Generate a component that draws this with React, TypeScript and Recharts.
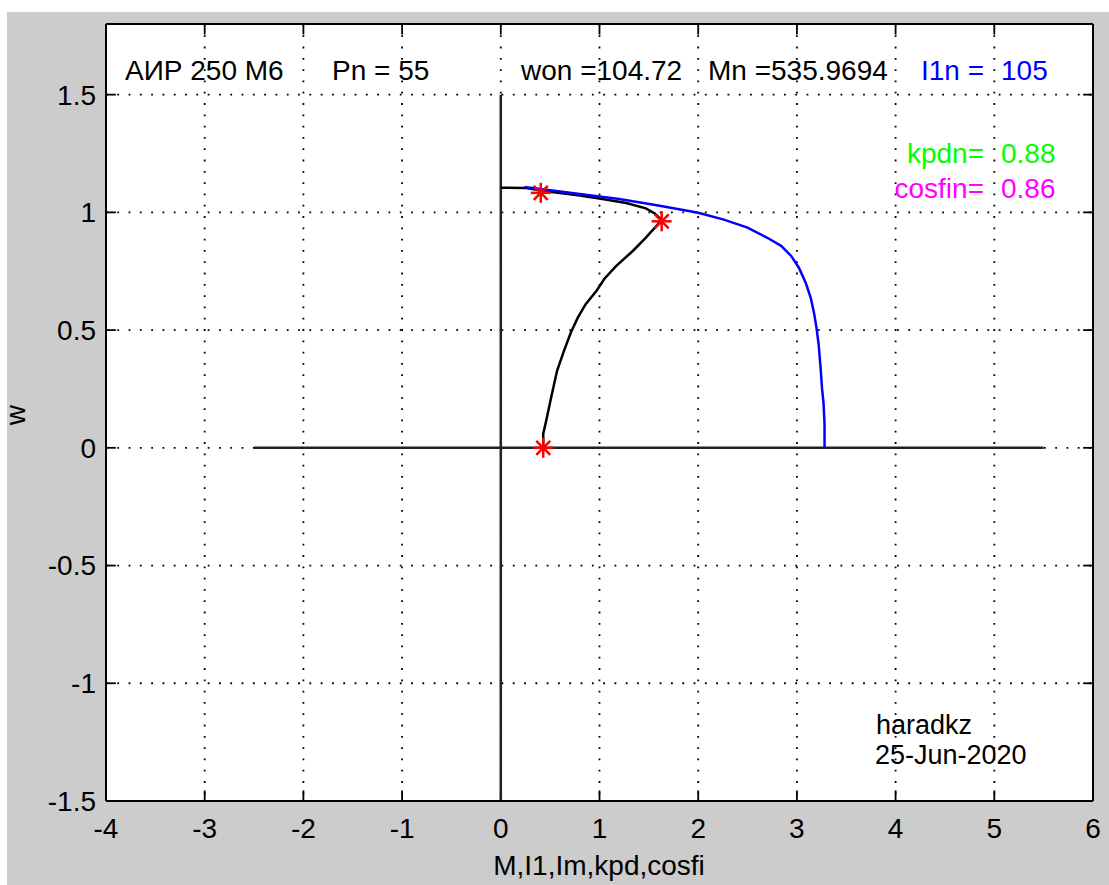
import React from 'react';
import { ComposedChart, Line, XAxis, YAxis, CartesianGrid, ReferenceLine } from 'recharts';

// axis ticks
const xTicks = [-4, -3, -2, -1, 0, 1, 2, 3, 4, 5, 6];
const yTicks = [-1.5, -1, -0.5, 0, 0.5, 1, 1.5];

// coordinate axes drawn as plot lines
const zeroH = [{ x: -2.5, y: 0 }, { x: 5.5, y: 0 }];
const zeroV = [{ x: 0, y: -1.5 }, { x: 0, y: 1.5 }];

// mechanical characteristic w(M) - blue
const mechCurve = [
  { x: 0.24, y: 1.108 }, { x: 0.5, y: 1.094 }, { x: 0.88, y: 1.074 }, { x: 1.2, y: 1.057 },
  { x: 1.58, y: 1.03 }, { x: 1.82, y: 1.012 }, { x: 2.0, y: 0.998 }, { x: 2.26, y: 0.969 },
  { x: 2.5, y: 0.935 }, { x: 2.7, y: 0.892 }, { x: 2.84, y: 0.858 }, { x: 2.94, y: 0.816 },
  { x: 3.02, y: 0.765 }, { x: 3.09, y: 0.7 }, { x: 3.14, y: 0.637 }, { x: 3.175, y: 0.57 },
  { x: 3.2, y: 0.505 }, { x: 3.22, y: 0.44 }, { x: 3.24, y: 0.34 }, { x: 3.255, y: 0.25 },
  { x: 3.27, y: 0.19 }, { x: 3.28, y: 0.1 }, { x: 3.28, y: 0 },
];

// current curve - black
const currentCurve = [
  { x: 0, y: 1.105 }, { x: 0.24, y: 1.104 }, { x: 0.5, y: 1.088 }, { x: 0.8, y: 1.072 },
  { x: 1.03, y: 1.057 }, { x: 1.27, y: 1.04 }, { x: 1.47, y: 1.017 }, { x: 1.56, y: 0.995 },
  { x: 1.63, y: 0.967 }, { x: 1.47, y: 0.893 }, { x: 1.34, y: 0.837 }, { x: 1.17, y: 0.773 },
  { x: 1.05, y: 0.718 }, { x: 0.97, y: 0.667 }, { x: 0.86, y: 0.61 }, { x: 0.78, y: 0.553 },
  { x: 0.71, y: 0.49 }, { x: 0.64, y: 0.412 }, { x: 0.57, y: 0.327 }, { x: 0.51, y: 0.214 },
  { x: 0.46, y: 0.115 }, { x: 0.43, y: 0.06 }, { x: 0.43, y: 0 },
];

// red asterisk markers
const markers = [{ x: 0.405, y: 1.083 }, { x: 1.63, y: 0.962 }, { x: 0.43, y: 0 }];

const FONT = '"Liberation Sans", Arial, sans-serif';
const tickFont = { fill: '#000', fontSize: 28, fontFamily: FONT };

const Star = (props: any) => {
  const { cx, cy } = props;
  if (cx == null || cy == null) return null;
  const r = 10;
  const d = 7;
  return (
    <g stroke="#ff0000" strokeWidth={2.5}>
      <line x1={cx - r} y1={cy} x2={cx + r} y2={cy} />
      <line x1={cx} y1={cy - r} x2={cx} y2={cy + r} />
      <line x1={cx - d} y1={cy - d} x2={cx + d} y2={cy + d} />
      <line x1={cx - d} y1={cy + d} x2={cx + d} y2={cy - d} />
    </g>
  );
};

export default function App() {
  return (
    <div style={{ position: 'relative', width: 1109, height: 885, background: '#fff', fontFamily: FONT }}>
      <style>{'body{margin:0}'}</style>
      <div style={{ position: 'absolute', left: 7, top: 12, right: 0, bottom: 0, background: '#cccccc' }} />
      <div style={{ position: 'absolute', left: 0, top: 0 }}>
        <ComposedChart width={1109} height={885} margin={{ top: 0, right: 0, bottom: 0, left: 0 }}>
          <CartesianGrid
            fill="#ffffff"
            fillOpacity={1}
            stroke="#000"
            strokeWidth={1.8}
            strokeDasharray="1.8 9.5"
          />
          <XAxis
            type="number"
            dataKey="x"
            domain={[-4, 6]}
            ticks={xTicks}
            allowDataOverflow
            height={84}
            tickSize={0}
            tickMargin={17}
            tickLine={false}
            axisLine={{ stroke: '#000', strokeWidth: 2 }}
            tick={tickFont}
          />
          <XAxis
            xAxisId="top"
            orientation="top"
            type="number"
            domain={[-4, 6]}
            height={24}
            tick={false}
            tickLine={false}
            axisLine={{ stroke: '#000', strokeWidth: 2 }}
          />
          <YAxis
            type="number"
            dataKey="y"
            domain={[-1.5, 1.8]}
            ticks={yTicks}
            allowDataOverflow
            width={106}
            tickSize={0}
            tickMargin={10}
            tickLine={false}
            axisLine={{ stroke: '#000', strokeWidth: 2 }}
            tick={tickFont}
          />
          <YAxis
            yAxisId="right"
            orientation="right"
            type="number"
            domain={[-1.5, 1.8]}
            width={16}
            tick={false}
            tickLine={false}
            axisLine={{ stroke: '#000', strokeWidth: 2 }}
          />

          {xTicks.map((t) => (
            <ReferenceLine key={'xb' + t} ifOverflow="visible" stroke="#000" strokeWidth={1.8}
              segment={[{ x: t, y: -1.5 }, { x: t, y: -1.455 }]} />
          ))}
          {xTicks.map((t) => (
            <ReferenceLine key={'xt' + t} ifOverflow="visible" stroke="#000" strokeWidth={1.8}
              segment={[{ x: t, y: 1.8 }, { x: t, y: 1.755 }]} />
          ))}
          {yTicks.map((t) => (
            <ReferenceLine key={'yl' + t} ifOverflow="visible" stroke="#000" strokeWidth={1.8}
              segment={[{ x: -4, y: t }, { x: -3.9, y: t }]} />
          ))}
          {yTicks.map((t) => (
            <ReferenceLine key={'yr' + t} ifOverflow="visible" stroke="#000" strokeWidth={1.8}
              segment={[{ x: 6, y: t }, { x: 5.9, y: t }]} />
          ))}

          <Line data={zeroH} dataKey="y" type="linear" stroke="#222" strokeWidth={2.5} dot={false} activeDot={false} isAnimationActive={false} />
          <Line data={zeroV} dataKey="y" type="linear" stroke="#222" strokeWidth={2.5} dot={false} activeDot={false} isAnimationActive={false} />
          <Line data={currentCurve} dataKey="y" type="linear" stroke="#000" strokeWidth={2.5} dot={false} activeDot={false} isAnimationActive={false} />
          <Line data={mechCurve} dataKey="y" type="linear" stroke="#0000ff" strokeWidth={2.5} dot={false} activeDot={false} isAnimationActive={false} />
          <Line data={markers} dataKey="y" stroke="none" dot={<Star />} activeDot={false} isAnimationActive={false} />
        </ComposedChart>
      </div>

      {/* text annotations */}
      <svg width={1109} height={885} style={{ position: 'absolute', left: 0, top: 0, pointerEvents: 'none' }}
        fontFamily={FONT} fontSize={28}>
        <text x={125} y={80} fill="#000">АИР 250 М6</text>
        <text x={332} y={80} fill="#000">Pn = 55</text>
        <text x={521} y={80} fill="#000">won =104.72</text>
        <text x={708} y={80} fill="#000">Mn =535.9694</text>
        <text x={984} y={80} fill="#0000ff" textAnchor="end">I1n =</text>
        <text x={1001} y={80} fill="#0000ff">105</text>
        <text x={984} y={163} fill="#00ff00" textAnchor="end">kpdn=</text>
        <text x={1001} y={163} fill="#00ff00">0.88</text>
        <text x={984} y={198} fill="#ff00ff" textAnchor="end">cosfin=</text>
        <text x={1001} y={198} fill="#ff00ff">0.86</text>
        <text x={876} y={734} fill="#000" fontSize={27}>haradkz</text>
        <text x={875} y={764} fill="#000" fontSize={27}>25-Jun-2020</text>
        <text x={599} y={875} fill="#000" textAnchor="middle">M,I1,Im,kpd,cosfi</text>
        <text x={25} y={415} fill="#000" textAnchor="middle" transform="rotate(-90 25 415)">w</text>
      </svg>
    </div>
  );
}
